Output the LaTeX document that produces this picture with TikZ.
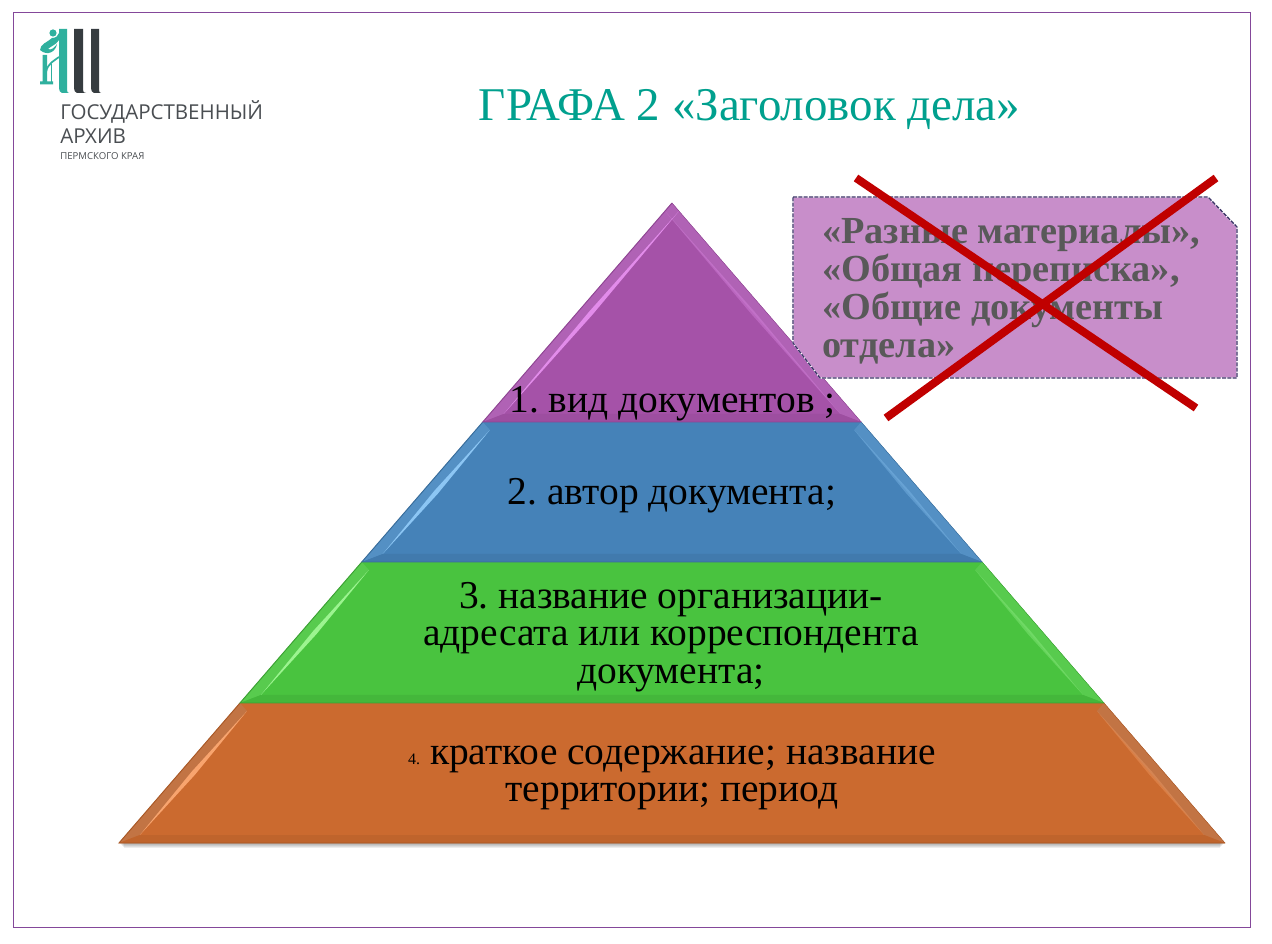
\documentclass[tikz,border=0pt]{standalone}
\usepackage{fontspec}
\setmainfont{Liberation Serif}
\newfontfamily\logofont{Open Sans}
\usetikzlibrary{calc}
\definecolor{framec}{HTML}{84489A}
\definecolor{titlec}{HTML}{00A08E}
\definecolor{tealc}{HTML}{2FB09E}
\definecolor{darkc}{HTML}{363C40}
\definecolor{logotext}{HTML}{4A4E52}
\definecolor{boxc}{HTML}{C88ECA}
\definecolor{boxline}{HTML}{3D3468}
\definecolor{greyt}{HTML}{595959}
\definecolor{crossc}{HTML}{C00000}
\definecolor{pu}{HTML}{A552A8}\definecolor{puL}{HTML}{B062B5}\definecolor{puH}{HTML}{E28CEA}\definecolor{puD}{HTML}{8E4592}
\definecolor{bl}{HTML}{4582B8}\definecolor{blL}{HTML}{5490C4}\definecolor{blH}{HTML}{8CC6F4}\definecolor{blD}{HTML}{386C9A}
\definecolor{gr}{HTML}{49C33F}\definecolor{grL}{HTML}{58CB4E}\definecolor{grH}{HTML}{9CF490}\definecolor{grD}{HTML}{3BA033}
\definecolor{or}{HTML}{CB6A2F}\definecolor{orL}{HTML}{C27444}\definecolor{orH}{HTML}{F8A46E}\definecolor{orD}{HTML}{A85826}
% \pyrlayer{top y}{bottom y}{colour prefix}
\newcommand{\pyrlayer}[3]{%
  \pgfmathsetmacro{\sl}{553/640}%
  \pgfmathsetmacro{\xa}{672-(#1-203)*\sl}\pgfmathsetmacro{\xb}{672+(#1-203)*\sl}%
  \pgfmathsetmacro{\xc}{672-(#2-203)*\sl}\pgfmathsetmacro{\xd}{672+(#2-203)*\sl}%
  \fill[#3] (\xa,#1) -- (\xb,#1) -- (\xd,#2) -- (\xc,#2) -- cycle;
  \pgfmathsetmacro{\ya}{#1+8}\pgfmathsetmacro{\yb}{#2-8}%
  \pgfmathsetmacro{\iaL}{672-(\ya-203)*\sl+14}\pgfmathsetmacro{\icL}{672-(\yb-203)*\sl+14}%
  \pgfmathsetmacro{\iaR}{672+(\ya-203)*\sl-14}\pgfmathsetmacro{\icR}{672+(\yb-203)*\sl-14}%
  \fill[#3L] (\xa,#1) -- (\iaL,\ya) -- (\icL,\yb) -- (\xc,#2) -- cycle;
  \fill[#3L] (\xb,#1) -- (\iaR,\ya) -- (\icR,\yb) -- (\xd,#2) -- cycle;
  \fill[#3D!35!#3] (\xc,#2) -- (\icL,\yb) -- (\icR,\yb) -- (\xd,#2) -- cycle;
  \pgfmathsetmacro{\mxL}{(\iaL+\icL)/2}\pgfmathsetmacro{\mxR}{(\iaR+\icR)/2}\pgfmathsetmacro{\my}{(\ya+\yb)/2}%
  \fill[#3H] (\iaL,\ya) -- ($(\mxL,\my)+(1.6,1.6)$) -- (\icL,\yb) -- ($(\mxL,\my)+(-1.6,-1.6)$) -- cycle;
  \fill[#3H,opacity=.35] (\iaR,\ya) -- ($(\mxR,\my)+(1.4,-1.4)$) -- (\icR,\yb) -- ($(\mxR,\my)+(-1.4,1.4)$) -- cycle;
  \draw[#3D,line width=.7pt] (\xa,#1) -- (\xc,#2) -- (\xd,#2);
  \draw[#3D,line width=.3pt] (\xd,#2) -- (\xb,#1);
}
\tikzset{
  layertext/.style={align=center,text=black,font=\fontsize{29.6}{28.3}\selectfont\frenchspacing,inner sep=0pt},
  boxtext/.style={align=left,anchor=north west,text=greyt,font=\fontsize{28.7}{28.6}\selectfont\bfseries\frenchspacing,inner sep=0pt},
  crossline/.style={crossc,line width=6pt},
}
\begin{document}
\begin{tikzpicture}[x=0.75pt,y=-0.75pt]
\useasboundingbox (0,0) rectangle (1272,944);
\fill[white] (0,0) rectangle (1272,944);
\draw[framec,line width=.7pt] (13.5,12.5) rectangle (1250.5,927.5);

% logo
\fill[tealc] (59,29) -- (67,29) -- (67,90) .. controls (67,92) and (68,93) .. (69,93) -- (62,93) .. controls (60,92) and (59,91) .. (59,88) -- cycle;
\fill[darkc] (74,29) -- (83,29) -- (83,90) .. controls (83,92) and (84,93) .. (86,93) -- (77,93) .. controls (75,92) and (74,91) .. (74,88) -- cycle;
\fill[darkc] (91,29) -- (99,29) -- (99,90) .. controls (99,92) and (100,93) .. (101,93) -- (94,93) .. controls (92,92) and (91,91) .. (91,88) -- cycle;
\fill[tealc] (53,33) circle (3.6);
\fill[tealc] (40,50) .. controls (40,44) and (48,42) .. (52,38) .. controls (56,38) and (58,36) .. (59,33) -- (59,40) .. controls (56,45) and (51,46) .. (48,49) .. controls (51,51) and (55,47) .. (57,44) .. controls (56,51) and (48,57) .. (40,50) -- cycle;
\fill[tealc] (42.5,55) -- (47,55) -- (47,81.5) -- (53,81.5) -- (53,84.5) -- (40,84.5) -- (40,81.5) -- (42.5,81.5) -- cycle;
\draw[tealc,line width=1.3pt] (46,72) .. controls (48,63) and (54,61) .. (59,57);
\draw[tealc,line width=1pt] (51.5,64) -- (51.5,83);
\node[anchor=west,inner sep=0pt,text=logotext] (logo1) at (60,111.5) {\logofont\fontsize{15.4}{18}\selectfont ГОСУДАРСТВЕННЫЙ};
\node[anchor=west,inner sep=0pt,text=logotext] (logo2) at (60,136.5) {\logofont\fontsize{15.4}{18}\selectfont АРХИВ};
\node[anchor=west,inner sep=0pt,text=logotext] (logo3) at (60,156) {\logofont\fontsize{7.2}{8}\selectfont ПЕРМСКОГО КРАЯ};

% title
\node[inner sep=0pt,text=titlec,font=\fontsize{35.2}{40}\selectfont\frenchspacing] (title) at (749.5,109) {ГРАФА 2 «Заголовок дела»};

% pyramid
\foreach \i in {1,...,5}{\fill[black,opacity=.07] (119+\i,843) -- (1225-\i,843) -- (1225-\i,843+\i) -- (119+\i,843+\i) -- cycle;}
\pyrlayer{703}{843}{or}
\pyrlayer{562}{703}{gr}
\pyrlayer{422}{562}{bl}
\pyrlayer{203}{422}{pu}

\node[layertext] (t1) at (672.5,404) {1. вид документов ;};
\node[layertext] (t2) at (672,496) {2. автор документа;};
\node[layertext] (t3) at (671,637) {3. название организации-\\адресата или корреспондента\\документа;};
\node[layertext] (t4) at (672,778) {{\fontsize{12}{14}\selectfont 4.} краткое содержание; название\\территории; период};

% note box
\fill[boxc] (793,197) -- (1208,197) -- (1237,227) -- (1237,378) -- (820,378) -- (793,343) -- cycle;
\draw[white,line width=1pt] (793,197) -- (1208,197) -- (1237,227) -- (1237,378) -- (820,378) -- (793,343) -- cycle;
\draw[boxline,line width=1pt,dash pattern=on 3pt off 1pt] (793,197) -- (1208,197) -- (1237,227) -- (1237,378) -- (820,378) -- (793,343) -- cycle;
\node[boxtext] (boxt) at (822,218) {«Разные материалы»,\\«Общая переписка»,\\«Общие документы\\отдела»};

% cross
\coordinate (c1a) at (856,178);\coordinate (c1b) at (1196,408);
\coordinate (c2a) at (1216,178);\coordinate (c2b) at (886,418);
\draw[crossline] (c1a) -- (c1b);
\draw[crossline] (c2a) -- (c2b);
\end{tikzpicture}
\end{document}
